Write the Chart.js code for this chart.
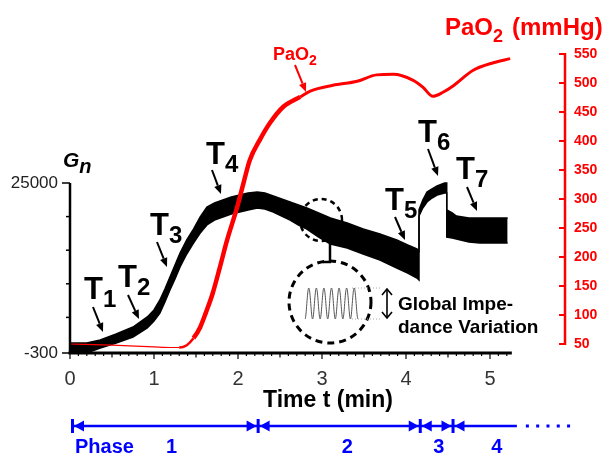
<!DOCTYPE html>
<html>
<head>
<meta charset="utf-8">
<script src="https://cdn.jsdelivr.net/npm/chart.js@4/dist/chart.umd.min.js"></script>
<style>
  body { margin: 0; background: #fff; }
</style>
</head>
<body>
<canvas id="chart" width="602" height="455"></canvas>
<script>
const FONT = '"Liberation Sans", Arial, Helvetica, sans-serif';

// time axis (min)
const xTicks = [0, 1, 2, 3, 4, 5];
const xAxisEnd = 5.26;

// Gn: upper and lower edge of the breathing oscillation band
const gnTime = [0, 0.2, 0.36, 0.55, 0.75, 0.92, 1.0, 1.07, 1.13, 1.19, 1.25, 1.31, 1.39, 1.47, 1.55, 1.63, 1.72, 1.82, 1.92, 2.02,
  2.12, 2.23, 2.32, 2.42, 2.52, 2.62, 2.72, 2.82, 2.96, 3.1, 3.3, 3.49, 3.69, 3.89, 4.02, 4.13, 4.155, 4.155, 4.2, 4.25,
  4.31, 4.37, 4.46, 4.485, 4.485, 4.55, 4.6, 4.75, 4.88, 5.05, 5.21];
const gnUpper = [1190, 1190, 1630, 2530, 3570, 5060, 6100, 7590, 9220, 11010, 12800, 14580, 16520, 18150, 19940, 21430, 22020, 22470, 22920, 23210,
  23510, 23660, 23510, 23070, 22620, 22170, 21730, 21280, 20540, 19790, 19050, 18150, 17410, 16520, 15770, 15180, 14880, 20980, 22470, 23660,
  24110, 24550, 25000, 25000, 20980, 20540, 20090, 19790, 19790, 19790, 19790];
const gnLower = [-300, -300, 440, 1190, 2080, 3420, 4460, 5650, 7290, 9080, 10710, 12500, 14430, 16070, 17560, 18750, 19490, 19940, 20390, 20680,
  20980, 21280, 21130, 20680, 20090, 19490, 18750, 18150, 16960, 15920, 15330, 14430, 13540, 12350, 11610, 10860, 10560, 20090, 21280, 22170,
  22770, 23210, 23510, 23510, 16960, 16810, 16670, 16220, 16070, 16070, 16070];
const gnTicks = [-300, 25000];
const gnMinorTicks = [5000, 10000, 15000, 20000];

// PaO2 (mmHg)
const paTime = [0, 0.5, 1.0, 1.2, 1.3, 1.39, 1.47, 1.55, 1.62, 1.70, 1.78, 1.87, 1.99, 2.07, 2.14, 2.26, 2.38, 2.54, 2.74, 2.86,
  3.13, 3.42, 3.65, 3.85, 4.08, 4.2, 4.32, 4.44, 4.56, 4.8, 5.04, 5.24];
const paO2 = [50, 48, 45, 44, 44, 48, 60, 79, 105, 138, 180, 229, 286, 330, 367, 402, 431, 459, 476, 486,
  496, 503, 514, 515, 505, 493, 477, 484, 495, 522, 535, 542];
const paTicks = [50, 100, 150, 200, 250, 300, 350, 400, 450, 500, 550];

// ventilation phases
const phaseBounds = [0.03, 2.24, 4.17, 4.56];
const phaseEnd = 5.32;
const phaseNames = ['1', '2', '3', '4'];
const phaseLabelAt = [1.21, 3.3, 4.39, 5.08];

function line(ctx, x0, y0, x1, y1) {
  ctx.beginPath(); ctx.moveTo(x0, y0); ctx.lineTo(x1, y1); ctx.stroke();
}

function arrow(ctx, x0, y0, x1, y1, lw, head, color) {
  const a = Math.atan2(y1 - y0, x1 - x0);
  const bx = x1 - head * Math.cos(a), by = y1 - head * Math.sin(a);
  ctx.strokeStyle = color; ctx.fillStyle = color; ctx.lineWidth = lw;
  line(ctx, x0, y0, bx, by);
  ctx.beginPath();
  ctx.moveTo(x1, y1);
  ctx.lineTo(bx + head * 0.42 * Math.sin(a), by - head * 0.42 * Math.cos(a));
  ctx.lineTo(bx - head * 0.42 * Math.sin(a), by + head * 0.42 * Math.cos(a));
  ctx.closePath(); ctx.fill();
}

// text with a subscript part
function subText(ctx, main, sub, x, y, size, subSize, drop, color, style) {
  ctx.fillStyle = color;
  ctx.textAlign = 'left'; ctx.textBaseline = 'alphabetic';
  ctx.font = style + ' ' + size + 'px ' + FONT;
  ctx.fillText(main, x, y);
  const w = ctx.measureText(main).width;
  ctx.font = style + ' ' + subSize + 'px ' + FONT;
  ctx.fillText(sub, x + w, y + drop);
  return x + w + ctx.measureText(sub).width;
}

// arrow head used on the phase bar
function phaseHead(ctx, tipX, y, dir) {
  ctx.beginPath();
  ctx.moveTo(tipX, y);
  ctx.lineTo(tipX + dir * 10, y - 5.5);
  ctx.lineTo(tipX + dir * 10, y + 5.5);
  ctx.closePath(); ctx.fill();
}

const tLabels = [
  { n: '1', x: 84, y: 299, a: [93, 307, 103, 332] },
  { n: '2', x: 118, y: 287, a: [128, 295, 139, 319] },
  { n: '3', x: 150, y: 235, a: [157, 242, 167, 267] },
  { n: '4', x: 206, y: 164, a: [212, 170, 221, 194] },
  { n: '5', x: 385, y: 210, a: [395, 217, 405, 240] },
  { n: '6', x: 418, y: 142, a: [428, 149, 438, 176] },
  { n: '7', x: 456, y: 179, a: [467, 187, 477, 211] }
];

const overlay = {
  id: 'overlay',
  afterDraw(chart) {
    const ctx = chart.ctx;
    const sx = chart.scales.x, sy = chart.scales.y, sp = chart.scales.y2;
    const area = chart.chartArea;
    const x0 = sx.getPixelForValue(0);
    ctx.save();
    ctx.lineCap = 'butt';

    // Gn axis
    ctx.strokeStyle = '#000'; ctx.lineWidth = 2.5;
    line(ctx, x0, sy.getPixelForValue(-300) + 1, x0, sy.getPixelForValue(25000));
    ctx.lineWidth = 1.5;
    gnTicks.forEach(v => line(ctx, x0 - 8, sy.getPixelForValue(v), x0, sy.getPixelForValue(v)));
    gnMinorTicks.forEach(v => line(ctx, x0 - 4, sy.getPixelForValue(v), x0, sy.getPixelForValue(v)));

    // time axis
    ctx.lineWidth = 3;
    line(ctx, x0 - 1.5, area.bottom, sx.getPixelForValue(xAxisEnd), area.bottom);
    ctx.lineWidth = 1.2;
    for (let k = 0; k <= 52; k++) {
      const px = sx.getPixelForValue(k / 10);
      const len = k % 10 === 0 ? 6 : (k % 5 === 0 ? 4.5 : 3);
      line(ctx, px, area.bottom, px, area.bottom + len);
    }

    // PaO2 axis
    const xr = area.right;
    ctx.strokeStyle = '#ff0000'; ctx.lineWidth = 2.5;
    line(ctx, xr, sp.getPixelForValue(50) + 1, xr, sp.getPixelForValue(550) - 1);
    ctx.lineWidth = 2;
    paTicks.forEach(v => line(ctx, xr - 6, sp.getPixelForValue(v), xr, sp.getPixelForValue(v)));

    // axis titles
    subText(ctx, 'PaO', '2', 445, 35, 24, 18, 7, '#ff0000', 'bold');
    ctx.font = 'bold 24px ' + FONT;
    ctx.fillText('(mmHg)', 512, 35);
    subText(ctx, 'PaO', '2', 273, 60, 18, 14, 5, '#ff0000', 'bold');
    arrow(ctx, 295, 65, 306, 92, 2, 9, '#ff0000');
    subText(ctx, 'G', 'n', 63, 167, 21, 20, 6, '#000', 'italic bold');

    ctx.fillStyle = '#000';
    ctx.font = 'bold 23px ' + FONT;
    ctx.textAlign = 'center';
    ctx.fillText('Time t (min)', 328, 407);

    // event markers T1..T7
    tLabels.forEach(t => {
      subText(ctx, 'T', t.n, t.x, t.y, 31, 24, 8, '#000', 'bold');
      arrow(ctx, t.a[0], t.a[1], t.a[2], t.a[3], 2, 9, '#000');
    });

    // zoom on the oscillation
    ctx.strokeStyle = '#000';
    ctx.setLineDash([5, 4]); ctx.lineWidth = 2.5;
    ctx.beginPath(); ctx.arc(321, 220, 21, 0, Math.PI * 2); ctx.stroke();
    ctx.setLineDash([]);
    line(ctx, 330, 241, 330, 262);
    line(ctx, 323, 262, 331, 262);
    ctx.setLineDash([7, 5]); ctx.lineWidth = 3;
    ctx.beginPath(); ctx.arc(330, 302, 41, 0, Math.PI * 2); ctx.stroke();
    ctx.setLineDash([]);

    // sketch of the signal inside the circle
    ctx.strokeStyle = '#555'; ctx.lineWidth = 1;
    const w0 = 305, w1 = 358, top = 288, bot = 319, n = 7;
    const cw = (w1 - w0) / n;
    ctx.beginPath();
    ctx.moveTo(w0, bot);
    for (let i = 0; i < n; i++) {
      const cx = w0 + i * cw;
      ctx.bezierCurveTo(cx + cw * 0.18, bot, cx + cw * 0.3, top, cx + cw * 0.5, top);
      ctx.bezierCurveTo(cx + cw * 0.7, top, cx + cw * 0.82, bot, cx + cw, bot);
    }
    ctx.stroke();
    ctx.strokeStyle = '#aaa'; ctx.setLineDash([1, 2]);
    line(ctx, 352, top, 381, top);
    line(ctx, 352, bot, 381, bot);
    ctx.setLineDash([]);

    // double arrow for the amplitude
    ctx.strokeStyle = '#000'; ctx.lineWidth = 1.6;
    line(ctx, 387, 289, 387, 318);
    ctx.beginPath(); ctx.moveTo(382, 295); ctx.lineTo(387, 289); ctx.lineTo(392, 295); ctx.stroke();
    ctx.beginPath(); ctx.moveTo(382, 312); ctx.lineTo(387, 318); ctx.lineTo(392, 312); ctx.stroke();

    ctx.fillStyle = '#000';
    ctx.textAlign = 'left';
    ctx.font = 'bold 19px ' + FONT;
    ctx.fillText('Global Impe-', 398, 310);
    ctx.fillText('dance Variation', 398, 333);

    // phase bar
    const py = 426;
    const blue = '#0000ff';
    ctx.strokeStyle = blue; ctx.fillStyle = blue;
    ctx.lineWidth = 2.5;
    line(ctx, sx.getPixelForValue(phaseBounds[0]), py, sx.getPixelForValue(phaseEnd), py);
    phaseBounds.forEach((b, i) => {
      const bx = sx.getPixelForValue(b);
      ctx.lineWidth = 3;
      line(ctx, bx, py - 7, bx, py + 7);
      phaseHead(ctx, bx + 1.5, py, 1);
      if (i > 0) phaseHead(ctx, bx - 1.5, py, -1);
    });
    const endX = sx.getPixelForValue(phaseEnd);
    for (let i = 0; i < 5; i++) ctx.fillRect(endX + 9 + i * 10.3, py - 1.5, 3, 3);

    ctx.font = 'bold 20px ' + FONT;
    ctx.textBaseline = 'middle';
    ctx.textAlign = 'left';
    ctx.fillText('Phase', 75, 447);
    ctx.textAlign = 'center';
    phaseNames.forEach((p, i) => ctx.fillText(p, sx.getPixelForValue(phaseLabelAt[i]), 447));

    ctx.restore();
  }
};

new Chart(document.getElementById('chart'), {
  type: 'line',
  data: {
    datasets: [
      {
        label: 'PaO2',
        data: paTime.map((t, i) => ({ x: t, y: paO2[i] })),
        yAxisID: 'y2',
        borderColor: '#ff0000',
        borderWidth: 3,
        pointRadius: 0,
        cubicInterpolationMode: 'monotone',
        fill: false,
        order: 0,
        segment: {
          borderWidth: c => {
            const t = c.p0.parsed.x;
            if (t < 1.3) return 1.2;
            if (t < 1.45) return 2.5;
            return t < 2.6 ? 4.5 : 3;
          }
        }
      },
      {
        label: 'Gn max',
        data: gnTime.map((t, i) => ({ x: t, y: gnUpper[i] })),
        yAxisID: 'y',
        borderColor: '#000',
        backgroundColor: '#000',
        borderWidth: 1.5,
        pointRadius: 0,
        tension: 0,
        fill: '+1',
        order: 1
      },
      {
        label: 'Gn min',
        data: gnTime.map((t, i) => ({ x: t, y: gnLower[i] })),
        yAxisID: 'y',
        borderColor: '#000',
        borderWidth: 1.5,
        pointRadius: 0,
        tension: 0,
        fill: false,
        order: 2
      }
    ]
  },
  options: {
    responsive: false,
    animation: false,
    devicePixelRatio: 1,
    layout: { padding: { top: 54, left: 0, right: 0, bottom: 0 } },
    plugins: { legend: { display: false }, tooltip: { enabled: false } },
    scales: {
      x: {
        type: 'linear',
        min: 0,
        max: 5.893,
        afterBuildTicks: s => { s.ticks = xTicks.map(v => ({ value: v })); },
        afterFit: s => { s.height = 102; },
        grid: { display: false, drawTicks: false },
        border: { display: false },
        ticks: { font: { family: FONT, size: 20 }, color: '#333', padding: 14, maxRotation: 0, autoSkip: false }
      },
      y: {
        position: 'left',
        min: -300,
        max: 44198,
        afterBuildTicks: s => { s.ticks = gnTicks.map(v => ({ value: v })); },
        afterFit: s => { s.width = 70; },
        grid: { display: false, drawTicks: false },
        border: { display: false },
        ticks: { font: { family: FONT, size: 17 }, color: '#222', padding: 12, autoSkip: false, callback: v => String(v) }
      },
      y2: {
        position: 'right',
        min: 34.5,
        max: 550,
        afterBuildTicks: s => { s.ticks = paTicks.map(v => ({ value: v })); },
        afterFit: s => { s.width = 37; },
        grid: { display: false, drawTicks: false },
        border: { display: false },
        ticks: { font: { family: FONT, size: 14, weight: 'bold' }, color: '#ff0000', padding: 9, autoSkip: false, callback: v => String(v) }
      }
    }
  },
  plugins: [overlay]
});
</script>
</body>
</html>
